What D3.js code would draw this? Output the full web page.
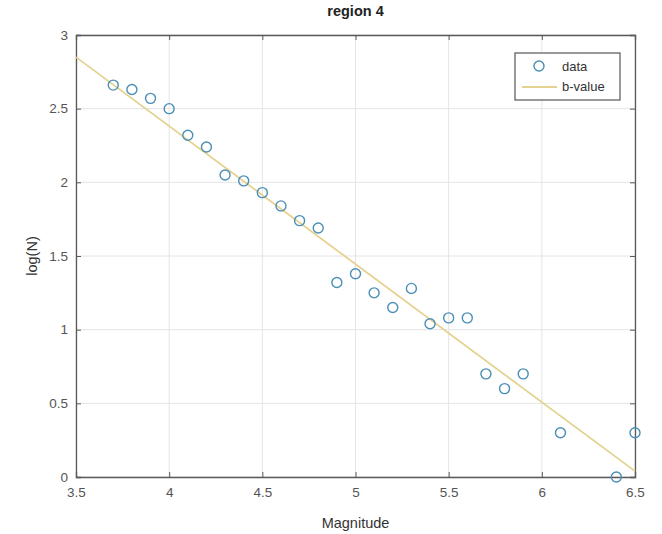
<!DOCTYPE html>
<html><head><meta charset="utf-8">
<script src="https://cdn.jsdelivr.net/npm/d3@7"></script>
<style>body{margin:0;background:#fff}svg{display:block}</style>
</head><body>
<svg id="c" width="662" height="534"></svg>
<script>
const magnitudes = [3.7,3.8,3.9,4.0,4.1,4.2,4.3,4.4,4.5,4.6,4.7,4.8,4.9,5.0,5.1,5.2,5.3,5.4,5.5,5.6,5.7,5.8,5.9,6.1,6.4,6.5];
const logN = [2.66,2.63,2.57,2.50,2.32,2.24,2.05,2.01,1.93,1.84,1.74,1.69,1.32,1.38,1.25,1.15,1.28,1.04,1.08,1.08,0.70,0.60,0.70,0.30,0.00,0.30];
const fitX = [3.5, 6.5];
const fitY = [2.85, 0.04];
const xTicks = [3.5,4,4.5,5,5.5,6,6.5];
const yTicks = [0,0.5,1,1.5,2,2.5,3];
const legendLabels = ["data","b-value"];

const svg = d3.select("#c");
const L=76, R=635, T=35, B=477;
const x = d3.scaleLinear().domain([3.5,6.5]).range([L,R]);
const y = d3.scaleLinear().domain([0,3]).range([B,T]);
const font = "Liberation Sans, Arial, sans-serif";
const axisCol = "#5a5a5a";

// grid
svg.append("g").selectAll("line").data(xTicks).join("line")
  .attr("x1",d=>x(d)).attr("x2",d=>x(d)).attr("y1",T).attr("y2",B)
  .attr("stroke","#e4e4e4").attr("stroke-width",1);
svg.append("g").selectAll("line").data(yTicks).join("line")
  .attr("y1",d=>y(d)).attr("y2",d=>y(d)).attr("x1",L).attr("x2",R)
  .attr("stroke","#e4e4e4").attr("stroke-width",1);

// axes with inward ticks
const fmt = d3.format("~g");
const gx = svg.append("g").attr("transform",`translate(0,${B})`)
  .call(d3.axisBottom(x).tickValues(xTicks).tickSize(-5).tickPadding(10).tickFormat(fmt));
const gxt = svg.append("g").attr("transform",`translate(0,${T})`)
  .call(d3.axisTop(x).tickValues(xTicks).tickSize(-5).tickFormat(""));
const gy = svg.append("g").attr("transform",`translate(${L},0)`)
  .call(d3.axisLeft(y).tickValues(yTicks).tickSize(-5).tickPadding(8).tickFormat(fmt));
const gyr = svg.append("g").attr("transform",`translate(${R},0)`)
  .call(d3.axisRight(y).tickValues(yTicks).tickSize(-5).tickFormat(""));
[gx,gxt,gy,gyr].forEach(g=>{
  g.select(".domain").attr("stroke",axisCol).attr("stroke-width",1.3);
  g.selectAll(".tick line").attr("stroke",axisCol);
  g.selectAll("text").attr("fill","#555").style("font-family",font).style("font-size","13.5px");
});

// fit line
const line = d3.line().x(d=>x(d[0])).y(d=>y(d[1]));
svg.append("path").datum(fitX.map((v,i)=>[v,fitY[i]]))
  .attr("d",line).attr("fill","none").attr("stroke","#e6d290").attr("stroke-width",1.8);

// data markers
svg.append("g").selectAll("circle").data(magnitudes.map((m,i)=>[m,logN[i]])).join("circle")
  .attr("cx",d=>x(d[0])).attr("cy",d=>y(d[1])).attr("r",5)
  .attr("fill","none").attr("stroke","#4a8fb5").attr("stroke-width",1.4);

// title and labels
svg.append("text").attr("x",(L+R)/2).attr("y",16).attr("text-anchor","middle")
  .style("font-family",font).style("font-size","14.5px").style("font-weight","bold").attr("fill","#222").text("region 4");
svg.append("text").attr("x",(L+R)/2).attr("y",528).attr("text-anchor","middle")
  .style("font-family",font).style("font-size","14.5px").attr("fill","#333").text("Magnitude");
svg.append("text").attr("transform",`translate(37,${(T+B)/2}) rotate(-90)`).attr("text-anchor","middle")
  .style("font-family",font).style("font-size","14.5px").attr("fill","#333").text("log(N)");

// legend
const lg = svg.append("g");
lg.append("rect").attr("x",515).attr("y",53).attr("width",105).attr("height",47)
  .attr("fill","#fff").attr("stroke","#555").attr("stroke-width",1.2);
lg.append("circle").attr("cx",539).attr("cy",66).attr("r",5).attr("fill","none")
  .attr("stroke","#4a8fb5").attr("stroke-width",1.4);
lg.append("line").attr("x1",522).attr("x2",557).attr("y1",87).attr("y2",87)
  .attr("stroke","#e6d290").attr("stroke-width",1.8);
lg.selectAll("text").data(legendLabels).join("text")
  .attr("x",562).attr("y",(d,i)=>71+i*20)
  .style("font-family",font).style("font-size","13px").attr("fill","#333").text(d=>d);
</script>
</body></html>
